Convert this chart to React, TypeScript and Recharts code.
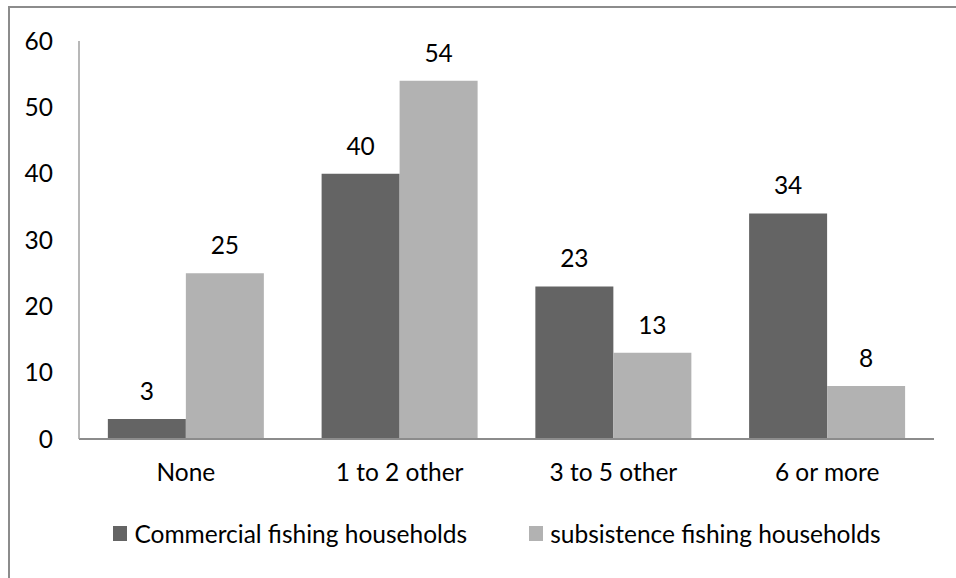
import { BarChart, Bar, XAxis, YAxis, Legend, LabelList } from 'recharts';

const categories = ['None', '1 to 2 other', '3 to 5 other', '6 or more'];
const commercial = [3, 40, 23, 34];
const subsistence = [25, 54, 13, 8];
const yTicks = [0, 10, 20, 30, 40, 50, 60];

const seriesNames = ['Commercial fishing households', 'subsistence fishing households'];
const seriesColors = ['#646464', '#b2b2b2'];

const data = categories.map((name, i) => ({
  name,
  commercial: commercial[i],
  subsistence: subsistence[i],
}));

const FONT = 'Lato, "Open Sans", sans-serif';
const textStyle = { fill: '#000', fontSize: 24.5, fontFamily: FONT };

function LegendContent() {
  return (
    <div
      style={{
        display: 'flex',
        justifyContent: 'center',
        fontFamily: FONT,
        fontSize: 24.5,
        color: '#000',
        paddingLeft: 38,
      }}
    >
      {seriesNames.map((n, i) => (
        <div key={n} style={{ display: 'flex', alignItems: 'center', marginRight: i === 0 ? 62 : 0 }}>
          <span style={{ width: 14, height: 15, background: seriesColors[i], display: 'inline-block', marginRight: 7 }} />
          <span>{n}</span>
        </div>
      ))}
    </div>
  );
}

export default function App() {
  return (
    <div style={{ position: 'fixed', left: 0, top: 0, width: 956, height: 578, background: '#fff', overflow: 'hidden' }}>
      <div
        style={{
          position: 'absolute',
          left: 8,
          top: 6,
          width: 1000,
          height: 700,
          border: '2px solid #8c8c8c',
        }}
      />
      <div style={{ position: 'absolute', left: 0, top: 0 }}>
        <BarChart
          width={956}
          height={578}
          data={data}
          margin={{ top: 41, right: 22, bottom: 109, left: 0 }}
          barCategoryGap="13.5%"
          barGap={0}
        >
          <XAxis
            dataKey="name"
            axisLine={{ stroke: '#8c8c8c', strokeWidth: 2 }}
            tickLine={false}
            tickMargin={19}
            tick={textStyle}
            height={30}
          />
          <YAxis
            width={79}
            domain={[0, 60]}
            ticks={yTicks}
            axisLine={{ stroke: '#a0a0a0', strokeWidth: 1.5 }}
            tickLine={false}
            tickMargin={20}
            tick={textStyle}
          />
          <Legend
            verticalAlign="middle"
            align="center"
            layout="horizontal"
            wrapperStyle={{ top: 519, left: 0, width: 956 }}
            content={() => <LegendContent />}
          />
          <Bar dataKey="commercial" fill={seriesColors[0]} isAnimationActive={false}>
            <LabelList dataKey="commercial" position="top" offset={19} style={textStyle} />
          </Bar>
          <Bar dataKey="subsistence" fill={seriesColors[1]} isAnimationActive={false}>
            <LabelList dataKey="subsistence" position="top" offset={19} style={textStyle} />
          </Bar>
        </BarChart>
      </div>
    </div>
  );
}
